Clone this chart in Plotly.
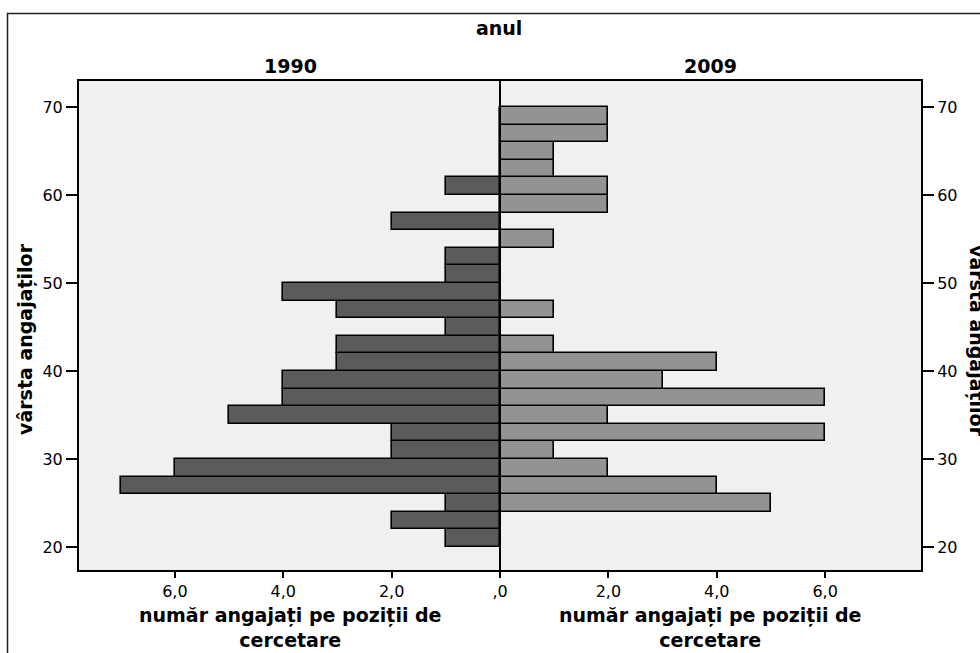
import plotly.graph_objects as go

# ---- data ----
age_bin_start = [20, 22, 24, 26, 28, 30, 32, 34, 36, 38, 40, 42, 44, 46, 48,
                 50, 52, 54, 56, 58, 60, 62, 64, 66, 68]
count_1990 = [1, 2, 1, 7, 6, 2, 2, 5, 4, 4, 3, 3, 1, 3, 4,
              1, 1, 0, 2, 0, 1, 0, 0, 0, 0]
count_2009 = [0, 0, 5, 4, 2, 1, 6, 2, 6, 3, 4, 1, 0, 1, 0,
              0, 0, 1, 0, 2, 2, 1, 1, 2, 2]
bin_width = 2
x_tick_vals = [0, 2, 4, 6]
x_tick_text = [",0", "2,0", "4,0", "6,0"]
y_tick_vals = [20, 30, 40, 50, 60, 70]

panel_titles = ["1990", "2009"]
facet_title = "anul"
x_title = "număr angajați pe poziții de<br>cercetare"
y_title = "vârsta angajaților"

bin_centers = [a + bin_width / 2 for a in age_bin_start]

W, H = 980, 653
L, R, T, B = 79, 59, 81, 83
PW, PH = W - L - R, H - T - B


def px(x):
    return (x - L) / PW


def py(y):
    return (H - B - y) / PH


FONT = "DejaVu Sans"
BAR_LINE = dict(color="black", width=1.6)

fig = go.Figure()
fig.add_trace(go.Bar(x=count_1990, y=bin_centers, width=bin_width, orientation="h",
                     marker=dict(color="#5b5b5b", line=BAR_LINE),
                     xaxis="x", yaxis="y", showlegend=False, hoverinfo="skip"))
fig.add_trace(go.Bar(x=count_2009, y=bin_centers, width=bin_width, orientation="h",
                     marker=dict(color="#939393", line=BAR_LINE),
                     xaxis="x2", yaxis="y2", showlegend=False, hoverinfo="skip"))

xmax = 7.77
yrange = [17.39, 72.95]
tickfont = dict(family=FONT, size=16, color="black")

common_x = dict(showgrid=False, zeroline=False, showline=True, mirror=True,
                linecolor="black", linewidth=2, ticks="outside", ticklen=6,
                tickwidth=2, tickcolor="black", tickfont=tickfont)
common_y = dict(showgrid=False, zeroline=False, showline=True, mirror=False,
                linecolor="black", linewidth=2, ticks="outside", ticklen=11,
                tickwidth=2, tickcolor="black", tickfont=tickfont,
                tickvals=y_tick_vals, range=yrange)

fig.update_layout(
    width=W, height=H,
    margin=dict(l=L, r=R, t=T, b=B),
    paper_bgcolor="white", plot_bgcolor="#f0f0f0",
    bargap=0,
    xaxis=dict(domain=[0, 0.5], range=[xmax, 0], anchor="y",
               tickvals=x_tick_vals[1:], ticktext=x_tick_text[1:], **common_x),
    xaxis2=dict(domain=[0.5, 1], range=[0, xmax], anchor="y2",
                tickvals=x_tick_vals, ticktext=x_tick_text, **common_x),
    yaxis=dict(anchor="x", side="left", **common_y),
    yaxis2=dict(anchor="x2", side="right", matches="y", **common_y),
)

# center line (shared zero of both panels)
fig.add_shape(type="line", xref="paper", yref="paper", x0=0.5, x1=0.5, y0=0, y1=1,
              line=dict(color="black", width=2), layer="above")
# outer border
fig.add_shape(type="rect", xref="paper", yref="paper",
              x0=px(7.5), x1=px(995), y0=py(13.5), y1=py(670),
              line=dict(color="#222222", width=1.5), layer="below")

bold = lambda s: dict(family=FONT, size=s, color="black", weight="bold")

ann = []
ann.append(dict(text=facet_title, x=px(499), y=py(28), font=bold(19)))
ann.append(dict(text=panel_titles[0], x=px(290), y=py(66), font=bold(19)))
ann.append(dict(text=panel_titles[1], x=px(710), y=py(66), font=bold(19)))
for cx in (290, 710):
    ann.append(dict(text=x_title, x=px(cx), y=py(627), font=bold(19)))
ann.append(dict(text=y_title, x=px(25), y=py(339), font=bold(19), textangle=-90))
ann.append(dict(text=y_title, x=px(977), y=py(341), font=bold(19), textangle=90))
for a in ann:
    a.update(xref="paper", yref="paper", showarrow=False,
             xanchor="center", yanchor="middle")
fig.update_layout(annotations=ann)

fig.write_html("out.html", config={"displayModeBar": False},
               post_script="document.body.style.margin='0';document.body.style.padding='0';")
